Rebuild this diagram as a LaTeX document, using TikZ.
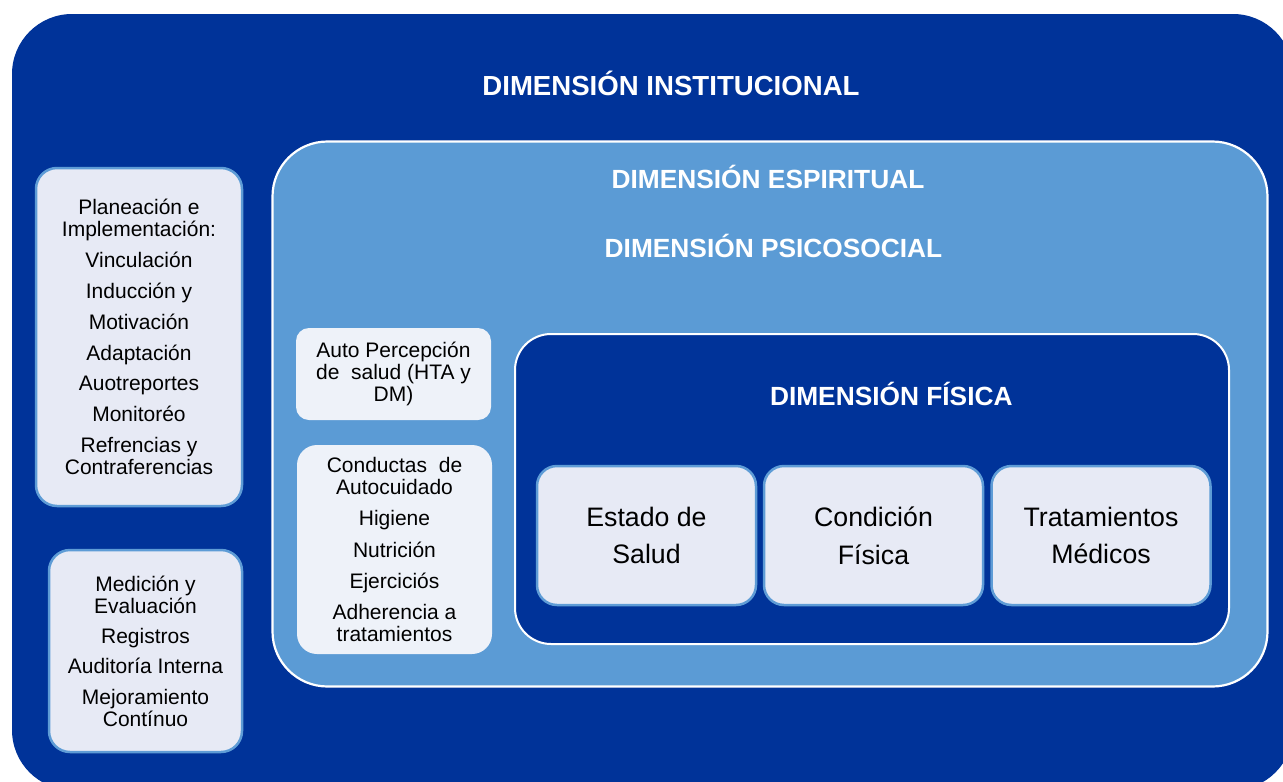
\documentclass[tikz,border=0pt]{standalone}
\usepackage{fontspec}
\setmainfont{Liberation Sans}
\definecolor{darkblue}{HTML}{003399}
\definecolor{midblue}{HTML}{5B9BD5}
\definecolor{boxfill}{HTML}{E7EAF5}
\definecolor{boxline}{HTML}{5E9CD6}
\definecolor{softfill}{HTML}{EEF2F9}
\begin{document}
\begin{tikzpicture}[x=1pt,y=-1pt,
  panel/.style={rectangle, inner sep=0pt},
  outerpanel/.style={panel, fill=darkblue, rounded corners=60pt},
  spiritpanel/.style={panel, fill=midblue, draw=white, line width=2.2pt, rounded corners=55pt},
  physpanel/.style={panel, fill=darkblue, draw=white, line width=2pt, rounded corners=36pt},
  listbox/.style={panel, fill=boxfill, draw=boxline, line width=2.5pt, rounded corners=21pt, align=center,
    font=\fontsize{21}{22}\selectfont},
  softbox/.style={panel, fill=softfill, rounded corners=13pt, align=center,
    font=\fontsize{21}{22}\selectfont},
  bigbox/.style={panel, fill=boxfill, draw=boxline, line width=2.5pt, rounded corners=20pt, align=center,
    minimum width=219pt, minimum height=139pt, font=\fontsize{26.7}{37.7}\selectfont},
  title/.style={anchor=base, inner sep=0pt, text=white, font=\bfseries\fontsize{26.3}{30}\selectfont}
]
\useasboundingbox (0,0) rectangle (1283,782);
\begin{scope}
\clip (0,0) rectangle (1283,782);
\node[outerpanel, minimum width=1281pt, minimum height=776pt] (inst) at (652.5,402) {};
\end{scope}
\node[title, font=\bfseries\fontsize{27.6}{30}\selectfont] (tinst) at (671,95) {DIMENSIÓN INSTITUCIONAL};

\node[spiritpanel, minimum width=995pt, minimum height=545pt] (esp) at (770,414) {};
\node[title] (tesp) at (768,188.3) {DIMENSIÓN ESPIRITUAL};
\node[title] (tpsi) at (773.5,257.3) {DIMENSIÓN PSICOSOCIAL};

\node[physpanel, minimum width=714pt, minimum height=310pt] (fis) at (872,489) {};
\node[title] (tfis) at (891.3,405) {DIMENSIÓN FÍSICA};

\node[listbox, minimum width=206pt, minimum height=338pt] (plan) at (139,337)
  {Planeación e\\Implementación:\\[8.8pt]Vinculación\\[8.8pt]Inducción y\\[8.8pt]Motivación\\[8.8pt]Adaptación\\[8.8pt]Auotreportes\\[8.8pt]Monitoréo\\[8.8pt]Refrencias y\\Contraferencias};
\node[listbox, minimum width=193pt, minimum height=202pt] (med) at (145.5,651)
  {Medición y\\Evaluación\\[8.3pt]Registros\\[8.3pt]Auditoría Interna\\[8.3pt]Mejoramiento\\Contínuo};

\node[softbox, minimum width=195pt, minimum height=92pt] (auto) at (393.5,374)
  {Auto Percepción\\de\ \ salud (HTA y\\DM)};
\node[softbox, minimum width=195pt, minimum height=209pt, rounded corners=20pt] (cond) at (394.5,549.5)
  {Conductas\ \ de\\Autocuidado\\[9.3pt]Higiene\\[9.3pt]Nutrición\\[9.3pt]Ejerciciós\\[9.3pt]Adherencia a\\tratamientos};

\node[bigbox] (estado) at (646.5,535.5) {Estado de\\Salud};
\node[bigbox] (condfis) at (873.5,535.5) {Condición\\Física};
\node[bigbox] (trat) at (1101,535.5) {Tratamientos\\Médicos};
\end{tikzpicture}
\end{document}
